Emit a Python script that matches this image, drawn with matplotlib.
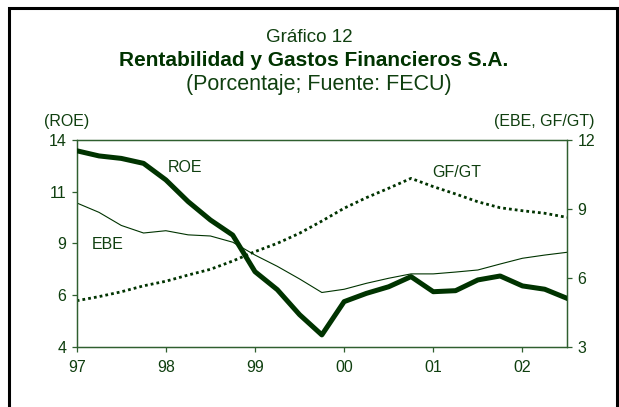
import numpy as np
import matplotlib
matplotlib.use('Agg')
import matplotlib.pyplot as plt
from matplotlib.patches import Rectangle

plt.rcParams['font.family'] = ['Liberation Sans', 'DejaVu Sans']

# trimestres 1997T1 .. 2002T3
trimestres = ['97T1', '97T2', '97T3', '97T4', '98T1', '98T2', '98T3', '98T4',
              '99T1', '99T2', '99T3', '99T4', '00T1', '00T2', '00T3', '00T4',
              '01T1', '01T2', '01T3', '01T4', '02T1', '02T2', '02T3']
anios = ['97', '98', '99', '00', '01', '02']

# eje izquierdo (ROE)
roe = [13.48, 13.23, 13.11, 12.87, 12.07, 11.02, 10.13, 9.40,
       7.63, 6.76, 5.55, 4.57, 6.18, 6.58, 6.90, 7.39,
       6.66, 6.71, 7.23, 7.42, 6.94, 6.78, 6.34]
# eje derecho (EBE, GF/GT)
ebe = [9.26, 8.85, 8.28, 7.95, 8.05, 7.87, 7.82, 7.55,
       6.99, 6.50, 5.95, 5.36, 5.50, 5.76, 5.98, 6.17,
       6.17, 6.25, 6.34, 6.60, 6.85, 6.99, 7.11]
gfgt = [5.00, 5.18, 5.39, 5.65, 5.85, 6.12, 6.37, 6.73,
        7.14, 7.50, 7.94, 8.47, 9.03, 9.49, 9.90, 10.33,
        9.97, 9.65, 9.31, 9.05, 8.92, 8.81, 8.63]

verde = '#003300'
texto = '#0f3f0f'
eje = '#2f5f2f'

x = np.arange(len(trimestres))

fig = plt.figure(figsize=(6.19, 4.07), dpi=100)
ax = fig.add_axes([0.1239, 0.1482, 0.7921, 0.5078])
ax2 = ax.twinx()

ax.plot(x, roe, color=verde, lw=3.6, solid_joinstyle='round', zorder=3)
ax2.plot(x, ebe, color=verde, lw=0.8)
ax2.plot(x, gfgt, color=verde, lw=2.0, linestyle=(0, (1, 1.1)))

ax.set_xlim(0, len(trimestres) - 1)
ax.set_ylim(4, 14)
ax.set_yticks([4, 6.5, 9, 11.5, 14])
ax.set_yticklabels(['4', '6', '9', '11', '14'])
ax2.set_ylim(3, 12)
ax2.set_yticks([3, 6, 9, 12])
ax.set_xticks(x[::4])
ax.set_xticklabels(anios)

ax.set_zorder(ax2.get_zorder() + 1)
ax.patch.set_visible(False)

for a in (ax, ax2):
    for s in a.spines.values():
        s.set_color(eje)
        s.set_linewidth(0.9)
    a.tick_params(colors=eje, labelcolor=texto, labelsize=11.5, length=3.5, width=0.9, pad=4)
ax.tick_params(axis='x', pad=6)

ax.text(4.86, 12.69, 'ROE', color=texto, fontsize=11.5, ha='center', va='center')
ax.text(1.38, 8.92, 'EBE', color=texto, fontsize=11.5, ha='center', va='center')
ax.text(17.04, 12.43, 'GF/GT', color=texto, fontsize=11.5, ha='center', va='center')

fig.text(67 / 619, 1 - 121 / 407, '(ROE)', color=texto, fontsize=11.5, ha='center', va='center')
fig.text(594 / 619, 1 - 121 / 407, '(EBE, GF/GT)', color=texto, fontsize=11.5, ha='right', va='center')

fig.text(0.5, 1 - 42 / 407, 'Gráfico 12', color=texto, fontsize=13.5, ha='center', va='baseline')
fig.text(0.506, 1 - 66 / 407, 'Rentabilidad y Gastos Financieros S.A.', color=verde,
         fontsize=15, fontweight='bold', ha='center', va='baseline')
fig.text(0.515, 1 - 90 / 407, '(Porcentaje; Fuente: FECU)', color=texto, fontsize=15.5,
         ha='center', va='baseline')

# marco exterior
fig.patches.append(Rectangle((9 / 619, -0.05), 608 / 619, 1.05 - 8 / 407, transform=fig.transFigure,
                             fill=False, edgecolor='black', lw=2.2))

fig.savefig('out.png', dpi=100)
